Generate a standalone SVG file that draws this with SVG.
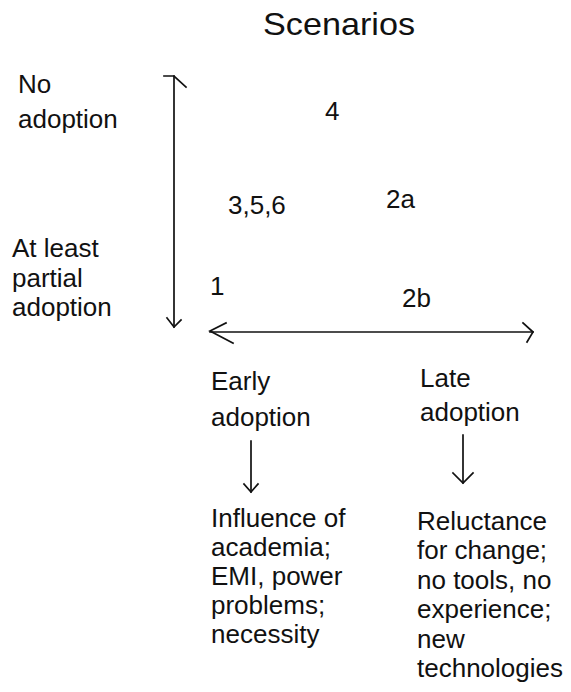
<svg xmlns="http://www.w3.org/2000/svg" width="571" height="692" viewBox="0 0 571 692">
  <style>
    text { font-family: "Liberation Sans", Arial, sans-serif; font-size: 26px; fill: #111; }
    .title { font-size: 32px; }
    .line { stroke: #111; stroke-width: 1.7; fill: none; stroke-linecap: square; stroke-linejoin: miter; }
  </style>
  <rect width="571" height="692" fill="#fff"/>

  <g id="title"><text class="title" x="263" y="35" textLength="152" lengthAdjust="spacingAndGlyphs">Scenarios</text></g>

  <!-- vertical axis labels -->
  <g id="no-adoption">
    <text x="18" y="93">No</text>
    <text x="18" y="128">adoption</text>
  </g>
  <g id="partial-adoption">
    <text x="12" y="257">At least</text>
    <text x="12" y="287">partial</text>
    <text x="12" y="316">adoption</text>
  </g>

  <!-- scenario numbers -->
  <g id="s4"><text x="325" y="120">4</text></g>
  <g id="s356"><text x="228" y="214">3,5,6</text></g>
  <g id="s2a"><text x="386" y="208">2a</text></g>
  <g id="s1"><text x="210" y="295">1</text></g>
  <g id="s2b"><text x="402" y="307">2b</text></g>

  <!-- horizontal axis labels -->
  <g id="early">
    <text x="211" y="390">Early</text>
    <text x="211" y="426">adoption</text>
  </g>
  <g id="late">
    <text x="420" y="387">Late</text>
    <text x="420" y="421">adoption</text>
  </g>

  <g id="early-causes">
    <text x="211" y="527">Influence of</text>
    <text x="211" y="556">academia;</text>
    <text x="211" y="585">EMI, power</text>
    <text x="211" y="614">problems;</text>
    <text x="211" y="643">necessity</text>
  </g>
  <g id="late-causes">
    <text x="417" y="530">Reluctance</text>
    <text x="417" y="559">for change;</text>
    <text x="417" y="589">no tools, no</text>
    <text x="417" y="618">experience;</text>
    <text x="417" y="648">new</text>
    <text x="417" y="677">technologies</text>
  </g>

  <g id="connectors">
    <!-- vertical axis -->
    <path class="line" d="M174 76 V327"/>
    <path class="line" d="M164 76 H174 L186 87"/>
    <path class="line" d="M167 318 L174 327 L181 320"/>
    <!-- horizontal axis -->
    <path class="line" d="M210 332 H533"/>
    <path class="line" d="M226 323 L210 331 L233 343"/>
    <path class="line" d="M523 323 L533 332 L527 342"/>
    <!-- early adoption arrow -->
    <path class="line" d="M251 441 V492"/>
    <path class="line" d="M244 484 L251 492 L258 484"/>
    <!-- late adoption arrow -->
    <path class="line" d="M463 435 V483"/>
    <path class="line" d="M453 473 L463 483 L473 473"/>
  </g>
</svg>
